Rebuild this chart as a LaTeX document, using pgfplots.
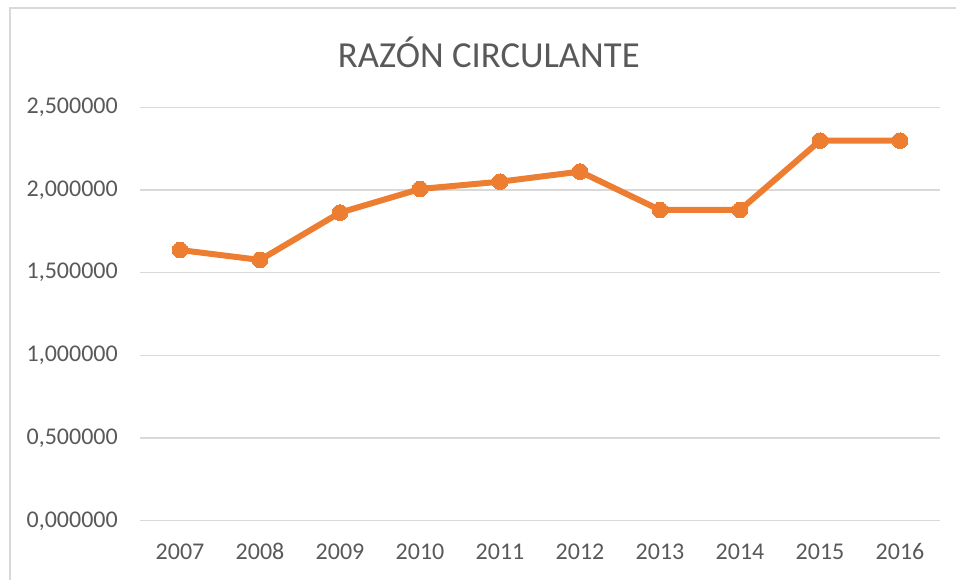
\documentclass[border=0pt]{standalone}
\usepackage{fontspec}
\setmainfont{Carlito}
\usepackage{pgfplots}
\pgfplotsset{compat=1.18}
\definecolor{lineor}{HTML}{ED7D31}
\definecolor{gridc}{HTML}{D9D9D9}
\definecolor{txt}{HTML}{595959}
\begin{document}
\begin{tikzpicture}
\begin{axis}[
  scale only axis,
  width=600pt, height=310.1pt,
  xmin=-0.5, xmax=9.5,
  ymin=0, ymax=2.5,
  xtick={0,...,9},
  xticklabels={2007,2008,2009,2010,2011,2012,2013,2014,2015,2016},
  ytick={0,0.5,1,1.5,2,2.5},
  axis line style={draw=none},
  axis x line*=bottom,
  axis y line*=left,
  major tick length=0pt,
  ymajorgrids,
  grid style={gridc, line width=1.1pt},
  tick label style={font=\fontsize{18}{20}\selectfont, text=txt},
  /pgf/number format/assume math mode=true,
  yticklabel={\pgfmathprintnumber[fixed, fixed zerofill, precision=6, use comma, 1000 sep={}]{\tick}},
  yticklabel style={anchor=east, inner sep=0pt, xshift=-16.5pt},
  xticklabel style={anchor=center, inner sep=0pt, yshift=-23.25pt},
  clip=false,
]
\addplot[color=lineor, line width=4.5pt, mark=*, mark size=5.9pt, mark options={fill=lineor, draw=lineor, line width=0pt}, line join=round]
coordinates {(0,1.637) (1,1.577) (2,1.863) (3,2.006) (4,2.050) (5,2.111) (6,1.879) (7,1.879) (8,2.298) (9,2.298)};
\coordinate (bl) at (axis description cs:-0.175,-0.1432);
\coordinate (tr) at (axis description cs:1.02,1.2595);
\draw[gridc, line width=1pt] (axis description cs:-0.1625,-0.1432) -- (axis description cs:-0.1625,1.2401) -- (axis description cs:1.02,1.2401);
\node[text=txt, font=\fontsize{27.5}{32}\selectfont] at (axis description cs:0.436,1.1337) {RAZÓN CIRCULANTE};
\end{axis}
\pgfresetboundingbox
\path[use as bounding box] (bl) rectangle (tr);
\end{tikzpicture}
\end{document}
